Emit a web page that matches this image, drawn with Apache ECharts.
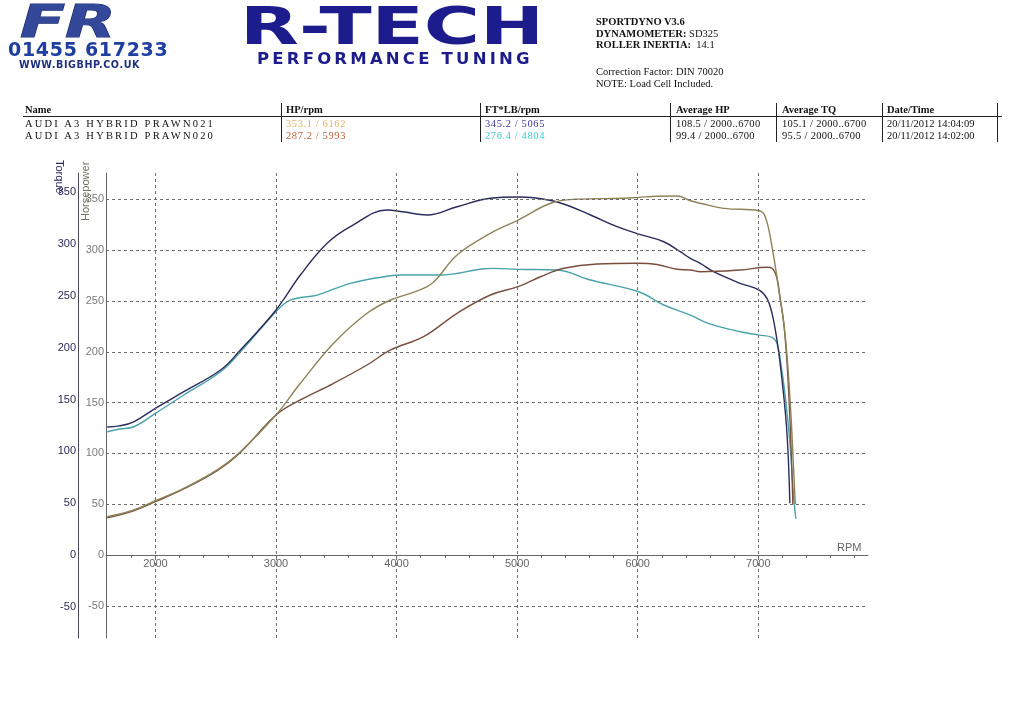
<!DOCTYPE html>
<html>
<head>
<meta charset="utf-8">
<script src="https://cdn.jsdelivr.net/npm/echarts@6/dist/echarts.min.js"></script>
<style>
  html, body { margin:0; padding:0; background:#fff; overflow:hidden; }
  #chart { position:absolute; left:0; top:0; width:1023px; height:723px; }
  .t { position:absolute; white-space:pre; z-index:5; }
  .serif { font-family:"Liberation Serif","DejaVu Serif",serif; font-size:10.5px; line-height:12px; color:#111; }
  .b { font-weight:bold; }
  .vl { position:absolute; width:1px; background:#222; z-index:5; }
  .hl { position:absolute; height:1px; background:#222; z-index:5; }
</style>
</head>
<body>
<div id="chart"></div>

<!-- header: logo block -->
<div class="t" style="left:8px;top:40px;font-family:'DejaVu Sans';font-weight:bold;font-size:19px;line-height:19px;color:#1f3fa0;letter-spacing:0.7px;">01455 617233</div>
<div class="t" style="left:19px;top:60px;font-family:'DejaVu Sans';font-weight:bold;font-size:9.6px;line-height:10px;color:#203080;letter-spacing:0.6px;">WWW.BIGBHP.CO.UK</div>
<div class="t" style="left:240px;top:1px;font-family:'DejaVu Sans';font-weight:bold;font-size:51px;line-height:51px;color:#1c1c8c;transform:scaleX(1.5);transform-origin:left top;">R-TECH</div>
<div class="t" style="left:257px;top:51px;font-family:'DejaVu Sans';font-weight:bold;font-size:16.5px;line-height:16.5px;color:#1c1c8c;letter-spacing:3.2px;">PERFORMANCE TUNING</div>

<!-- header: dyno info -->
<div class="t serif b" style="left:596px;top:15.5px;">SPORTDYNO V3.6</div>
<div class="t serif" style="left:596px;top:27.5px;"><span class="b">DYNAMOMETER:</span> SD325</div>
<div class="t serif" style="left:596px;top:39px;"><span class="b">ROLLER INERTIA:</span>  14.1</div>
<div class="t serif" style="left:596px;top:65.5px;">Correction Factor: DIN 70020</div>
<div class="t serif" style="left:596px;top:78px;">NOTE: Load Cell Included.</div>

<div id="table"></div>

<script>
// ---------- table data ----------
const tableHeaders = ["Name", "HP/rpm", "FT*LB/rpm", "Average HP", "Average TQ", "Date/Time"];
const runNames = ["AUDI A3 HYBRID PRAWN021", "AUDI A3 HYBRID PRAWN020"];
const peakHp = ["353.1 / 6162", "287.2 / 5993"];
const peakTq = ["345.2 / 5065", "276.4 / 4804"];
const avgHp = ["108.5 / 2000..6700", "99.4 / 2000..6700"];
const avgTq = ["105.1 / 2000..6700", "95.5 / 2000..6700"];
const runTimes = ["20/11/2012 14:04:09", "20/11/2012 14:02:00"];

// ---------- chart data ----------
const rpmTicks = [1800,2000,2200,2400,2600,2800,3000,3200,3400,3600,3800,4000,4200,4400,4600,4800,5000,5200,5400,5600,5800,6000,6200,6400,6600,6800,7000,7200,7400,7600,7800];
const rpmLabels = [2000,3000,4000,5000,6000,7000];
const valueLabels = [-50,0,50,100,150,200,250,300,350];
const hGrid = [-50,50,100,150,200,250,300,350];

// PRAWN021 horsepower
const hp021Rpm = [1600,1820,2000,2235,2512,2705,3000,3202,3478,3755,3950,4150,4300,4502,4778,5008,5277,5470,5885,6008,6162,6326,6437,6519,6712,7008,7058,7114,7169,7224,7265,7293,7307];
const hp021 =    [37.7,44.3,53.4,65.6,83.7,101.7,137.8,169,208.4,237.9,251,259,268,295.3,316.6,329.7,346.2,350.1,351.1,352,353.1,353.3,348.7,346.2,341.2,338.9,333,303.4,262,215,150,85,50];
// PRAWN021 torque
const tq021Rpm = [1600,1700,1820,2000,2235,2540,2705,3000,3202,3424,3617,3921,4050,4253,4502,4778,5008,5138,5359,5608,5829,6008,6216,6353,6437,6519,6629,6851,7008,7072,7114,7155,7197,7238,7262];
const tq021 =    [123.5,124.5,128.5,141.5,157.5,178.4,197.7,236.3,270,300.6,316.6,332.7,331,327.9,335.9,344,345.2,344.5,339.5,327.9,316.6,309.5,302.1,292.5,286.1,281.3,273.2,262,255.5,247.5,233,207.3,168.8,117.4,50];
// PRAWN020 horsepower
const hp020Rpm = [1600,1820,2000,2235,2512,2705,3000,3202,3478,3755,3950,4224,4502,4778,5008,5194,5387,5663,5993,6160,6326,6437,6519,6851,7072,7114,7155,7183,7210,7238,7260,7275,7287];
const hp020 =    [36.5,43.5,52.5,65,83,101,137.8,152.6,169,187,201.8,214.9,237.9,255.9,264.1,273.9,282.2,286.5,287.2,286,281.2,280.5,278.8,280.5,283.2,282.2,272.3,251,230,190,140,95,50];
// PRAWN020 torque
const tq020Rpm = [1600,1700,1820,2000,2235,2540,2705,3000,3119,3341,3617,3893,4032,4364,4723,4804,5008,5330,5608,6008,6216,6437,6584,6851,7008,7114,7155,7183,7224,7265,7293,7312];
const tq020 =    [118.9,121.5,123.7,136.6,154.3,176.8,196,234.6,245.9,250.7,262,268.4,270,270,276,276.4,275.5,274.8,265.2,253.9,241.1,231.4,223.4,215.3,212.1,209.9,204.1,188,152.7,104.4,56.2,35];

// ---------- build table ----------
const colX = [25, 286, 485, 676, 782, 887];
const sepX = [281, 480, 670, 776, 882, 997];
const rowTop = [104, 117.5, 130];
const hpColors = ["#e0b468", "#c0603c"];
const tqColors = ["#3b3b9b", "#3ccad4"];
const tbl = document.getElementById('table');
function addText(x, y, txt, extra) {
  const d = document.createElement('div');
  d.className = 't serif';
  d.style.left = x + 'px'; d.style.top = y + 'px';
  if (extra) Object.assign(d.style, extra);
  d.textContent = txt;
  tbl.appendChild(d);
}
tableHeaders.forEach((h, i) => addText(colX[i], rowTop[0], h, {fontWeight: 'bold'}));
for (let r = 0; r < 2; r++) {
  const y = rowTop[r + 1];
  addText(colX[0], y, runNames[r], {letterSpacing: '2.2px'});
  addText(colX[1], y, peakHp[r], {color: hpColors[r], letterSpacing: '0.6px'});
  addText(colX[2], y, peakTq[r], {color: tqColors[r], letterSpacing: '0.6px'});
  addText(colX[3], y, avgHp[r], {letterSpacing: '0.3px'});
  addText(colX[4], y, avgTq[r], {letterSpacing: '0.3px'});
  addText(colX[5], y, runTimes[r]);
}
const hl = document.createElement('div');
hl.className = 'hl'; hl.style.left = '23px'; hl.style.top = '116px'; hl.style.width = '979px';
tbl.appendChild(hl);
sepX.forEach(x => {
  const v = document.createElement('div');
  v.className = 'vl'; v.style.left = x + 'px'; v.style.top = '103px'; v.style.height = '39px';
  tbl.appendChild(v);
});

// ---------- chart ----------
const zip = (xs, ys) => xs.map((x, i) => [x, ys[i]]);
const chart = echarts.init(document.getElementById('chart'), null, {renderer: 'canvas'});
const fontFam = 'Liberation Sans, Arial, sans-serif';
const gridStyle = {type: [3, 3], color: '#6e6e6e', width: 1};
const lineCommon = {type: 'line', showSymbol: false, smooth: 0.4, z: 3};

chart.setOption({
  animation: false,
  backgroundColor: '#ffffff',
  grid: {left: 106, right: 155, top: 173, bottom: 85, containLabel: false},
  xAxis: {
    type: 'value', min: 1590, max: 7910, position: 'bottom', offset: -83,
    axisLine: {onZero: false, lineStyle: {color: '#666', width: 1}},
    axisTick: {show: true, length: 3, customValues: rpmTicks, lineStyle: {color: '#666'}},
    axisLabel: {customValues: rpmLabels, formatter: v => String(v), color: '#666', fontSize: 11, fontFamily: fontFam, margin: 3},
    splitLine: {show: false}
  },
  yAxis: [
    {
      type: 'value', min: -81.7, max: 376, position: 'left',
      axisLine: {show: true, onZero: false, lineStyle: {color: '#666', width: 1}},
      axisTick: {show: false},
      axisLabel: {customValues: valueLabels, color: '#7a7a7a', fontSize: 11, fontFamily: fontFam, margin: 2},
      splitLine: {show: false}
    },
    {
      type: 'value', min: -80, max: 368.4, position: 'left', offset: 28,
      axisLine: {show: true, onZero: false, lineStyle: {color: '#4a4a5a', width: 1}},
      axisTick: {show: false},
      axisLabel: {customValues: valueLabels, color: '#2a2a55', fontSize: 11, fontFamily: fontFam, margin: 2},
      splitLine: {show: false}
    }
  ],
  graphic: [
    {type: 'text', x: 20, y: 48, scaleX: 1.5, z: 10,
     style: {text: 'FR', fill: '#34489a', stroke: '#1c2a70', lineWidth: 1, font: 'italic bold 44px DejaVu Sans, sans-serif', textAlign: 'left', textVerticalAlign: 'bottom'}},
    {type: 'text', x: 59, y: 160, rotation: -Math.PI / 2, z: 10,
     style: {text: 'Torque', fill: '#2a2a60', font: '11px ' + fontFam, textAlign: 'left', textVerticalAlign: 'middle'}},
    {type: 'text', x: 86, y: 221, rotation: Math.PI / 2, z: 10,
     style: {text: 'Horsepower', fill: '#6f7462', font: '11px ' + fontFam, textAlign: 'left', textVerticalAlign: 'middle'}},
    {type: 'text', x: 837, y: 548, z: 10,
     style: {text: 'RPM', fill: '#666', font: '11px ' + fontFam, textAlign: 'left', textVerticalAlign: 'middle'}}
  ],
  series: [
    {
      name: 'grid', type: 'line', data: [], z: 1, silent: true,
      markLine: {
        silent: true, symbol: 'none', animation: false,
        label: {show: false}, lineStyle: gridStyle,
        data: rpmLabels.map(v => ({xAxis: v})).concat(hGrid.map(v => ({yAxis: v})))
      }
    },
    Object.assign({name: 'PRAWN020 TQ', yAxisIndex: 1, data: zip(tq020Rpm, tq020), lineStyle: {color: '#4aa3aa', width: 1.4}}, lineCommon),
    Object.assign({name: 'PRAWN021 TQ', yAxisIndex: 1, data: zip(tq021Rpm, tq021), lineStyle: {color: '#2a2c5c', width: 1.4}}, lineCommon),
    Object.assign({name: 'PRAWN020 HP', yAxisIndex: 0, data: zip(hp020Rpm, hp020), lineStyle: {color: '#7a4e3e', width: 1.4}}, lineCommon),
    Object.assign({name: 'PRAWN021 HP', yAxisIndex: 0, data: zip(hp021Rpm, hp021), lineStyle: {color: '#8c8458', width: 1.4}}, lineCommon)
  ]
});
</script>
</body>
</html>
